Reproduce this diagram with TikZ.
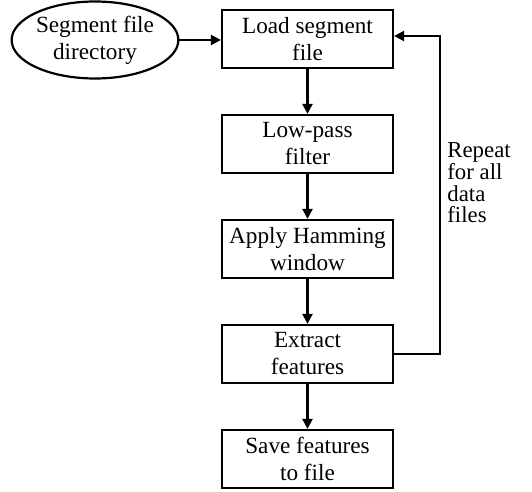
\documentclass[tikz,border=0pt]{standalone}
\usepackage{fontspec}
\setmainfont{Liberation Serif}
\usetikzlibrary{positioning,shapes.geometric,arrows.meta}

\begin{document}
\begin{tikzpicture}[node distance=22.4pt,
        every node/.style={font=\fontsize{11.6}{13.5}\selectfont},
        stepbox/.style={draw, rectangle, line width=1.1pt, align=center, minimum width=85.5pt, minimum height=29pt, inner sep=1pt},
        inputnode/.style={draw, ellipse, line width=1.1pt, align=center, minimum width=78.5pt, minimum height=38.5pt, inner sep=0pt},
        flow/.style={draw, line width=1.1pt, -{Triangle[length=5pt, width=5pt]}}]
    \useasboundingbox (0,0) rectangle (266pt,-246pt);
    % processing steps
    \node [stepbox] (load) at (153.75pt,-19.5pt) {Load segment\\file};
    \node [stepbox, below=of load] (lowpass) {Low-pass\\filter};
    \node [stepbox, below=of lowpass] (hamming) {Apply Hamming\\window};
    \node [stepbox, below=of hamming] (extract) {Extract\\features};
    \node [stepbox, below=of extract] (save) {Save features\\to file};
    % input
    \node [inputnode] (segdir) at (47.5pt,-20pt) {Segment file\\directory};
    \node [anchor=west, align=left, inner sep=0pt, font=\fontsize{11.4}{10.8}\selectfont] (repeat) at (223.5pt,-91.5pt) {Repeat\\for all\\data\\files};
    % connectors
    \draw [flow] (segdir.east) -- (segdir.east -| load.west);
    \draw [flow] (load) -- (lowpass);
    \draw [flow] (lowpass) -- (hamming);
    \draw [flow] (hamming) -- (extract);
    \draw [flow] (extract) -- (save);
    \draw [flow] (extract.east) -- ++(23pt,0) |- ([yshift=1.5pt]load.east);
\end{tikzpicture}
\end{document}
